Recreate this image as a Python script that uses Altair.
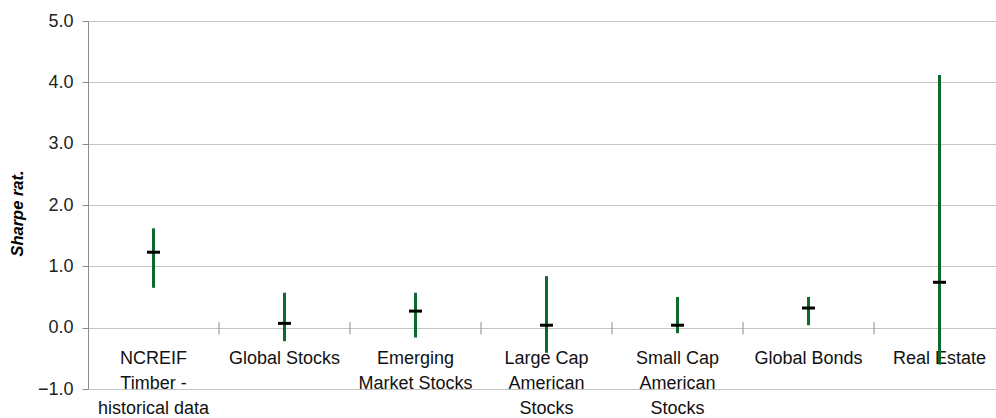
import altair as alt
import pandas as pd

categories = [
    "NCREIF\nTimber -\nhistorical data",
    "Global Stocks",
    "Emerging\nMarket Stocks",
    "Large Cap\nAmerican\nStocks",
    "Small Cap\nAmerican\nStocks",
    "Global Bonds",
    "Real Estate",
]
high = [1.62, 0.57, 0.57, 0.84, 0.50, 0.50, 4.12]
low = [0.65, -0.22, -0.16, -0.41, -0.09, 0.04, -0.60]
mid = [1.23, 0.07, 0.27, 0.04, 0.04, 0.32, 0.74]
y_ticks = [-1, 0, 1, 2, 3, 4, 5]

df = pd.DataFrame({
    "pos": [i + 0.5 for i in range(len(categories))],
    "label": categories,
    "high": high,
    "low": low,
    "mid": mid,
})
bounds = pd.DataFrame({"b": list(range(1, len(categories)))})

FONT = "Liberation Sans"
xscale = alt.Scale(domain=[0, 908 / 131], nice=False, zero=False)
yscale = alt.Scale(domain=[-1, 5], nice=False, zero=False)

base = alt.Chart(df)

frame = base.mark_point(opacity=0).encode(
    x=alt.X("pos:Q", scale=xscale, axis=None),
    y=alt.Y("mid:Q", scale=yscale, axis=alt.Axis(
        values=y_ticks, format=".1f", grid=True, gridColor="#c4c4c4",
        gridWidth=1, domainColor="#8c8c8c", tickColor="#8c8c8c", tickSize=6,
        labelFont=FONT, labelFontSize=18, labelColor="#222222", labelPadding=9,
        title="Sharpe rat.", titleFont=FONT, titleFontSize=16.5,
        titleFontWeight="bold", titleFontStyle="italic", titleColor="#000000",
        titleX=-71, titleY=192, titleAngle=-90, titleAlign="center",
        titleBaseline="middle")),
)

cat_ticks = alt.Chart(bounds).mark_rule(color="#8c8c8c", strokeWidth=1).encode(
    x=alt.X("b:Q", scale=xscale),
    y=alt.datum(-0.11),
    y2=alt.datum(0.09),
)

ranges = base.mark_rule(color="#0b6a2e", strokeWidth=3).encode(
    x=alt.X("pos:Q", scale=xscale),
    y=alt.Y("low:Q", scale=yscale),
    y2="high:Q",
)

mids = base.mark_tick(orient="horizontal", color="#000000", opacity=1,
                      size=13, thickness=3).encode(
    x=alt.X("pos:Q", scale=xscale),
    y=alt.Y("mid:Q", scale=yscale),
)

labels = base.mark_text(font=FONT, fontSize=18, color="#111111", align="center",
                        baseline="top", lineBreak="\n", lineHeight=25).encode(
    x=alt.X("pos:Q", scale=xscale),
    y=alt.datum(-0.37),
    text="label:N",
)

chart = alt.layer(frame, cat_ticks, labels, ranges, mids).properties(
    width=908, height=368,
    autosize=alt.AutoSizeParams(type="none"),
    padding={"left": 88, "top": 21, "right": 0, "bottom": 29},
    background="#ffffff",
).configure_view(stroke=None)

chart.save("out.html", embed_options={"renderer": "svg", "actions": False})
